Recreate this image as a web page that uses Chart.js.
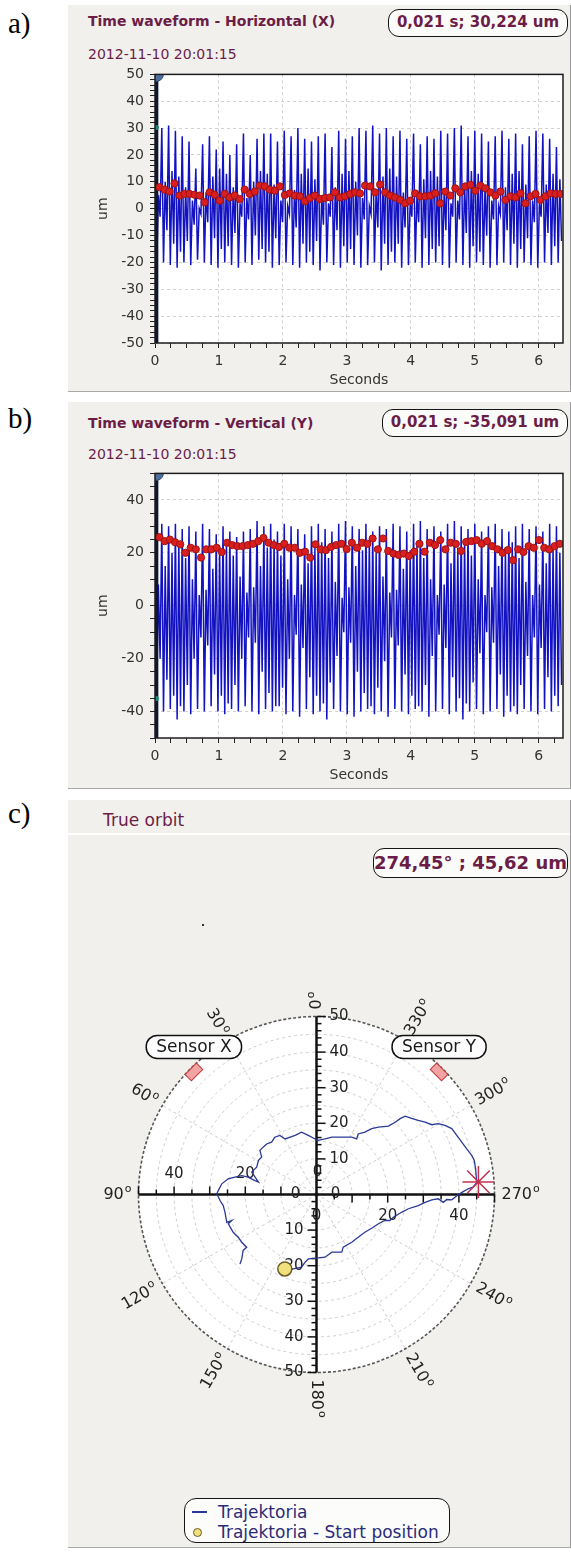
<!DOCTYPE html>
<html>
<head>
<meta charset="utf-8">
<script src="https://cdn.jsdelivr.net/npm/chart.js@4.4.1/dist/chart.umd.min.js"></script>
<style>
  body { margin: 0; width: 571px; height: 1557px; position: relative; background: #fff; font-family: 'DejaVu Sans', sans-serif; overflow: hidden; }
  .tag { position: absolute; left: 8px; font: 29px 'Liberation Serif', serif; line-height: 32px; color: #000; }
  .panel { position: absolute; left: 68px; width: 502px; background: #f1f0ec; border-right: 1px solid #9b9b9b; border-bottom: 1px solid #a9a9a9; }
  .head { position: absolute; color: #6b1d47; white-space: nowrap; }
  .readout { position: absolute; box-sizing: border-box; border: 1.5px solid #151515; border-radius: 11px; background: #fbfbfa; color: #6b1d47; font-weight: bold; text-align: center; white-space: nowrap; }
  .legtext { position: absolute; left: 218px; font-size: 17px; line-height: 20px; color: #2b2b78; white-space: nowrap; }
  canvas { position: absolute; }
</style>
</head>
<body>
<div class="tag" style="top:7px">a)</div>
<div class="panel" style="top:5px;height:386px"></div>
<div class="head" style="left:88px;top:13px;font-size:14px;line-height:17px;font-weight:bold">Time waveform - Horizontal (X)</div>
<div class="head" style="left:88px;top:46px;font-size:14px;line-height:17px">2012-11-10 20:01:15</div>
<div class="readout" style="left:388px;top:9px;width:180px;height:28px;font-size:15px;line-height:25px">0,021 s; 30,224 um</div>
<canvas id="chartA" width="503" height="330" style="left:68px;top:60px"></canvas>

<div class="tag" style="top:402px">b)</div>
<div class="panel" style="top:402px;height:386px"></div>
<div class="head" style="left:88px;top:415px;font-size:14px;line-height:17px;font-weight:bold">Time waveform - Vertical (Y)</div>
<div class="head" style="left:88px;top:446px;font-size:14px;line-height:17px">2012-11-10 20:01:15</div>
<div class="readout" style="left:382px;top:409px;width:186px;height:28px;font-size:15px;line-height:25px">0,021 s; -35,091 um</div>
<canvas id="chartB" width="503" height="326" style="left:68px;top:459px"></canvas>

<div class="tag" style="top:797px">c)</div>
<div class="panel" style="top:800px;height:747px"></div>
<div class="head" style="left:103px;top:810px;font-size:17px;line-height:20px">True orbit</div>
<div style="position:absolute;left:68px;top:833px;width:502px;height:2px;background:#fff"></div>
<div class="readout" style="left:373px;top:848px;width:195px;height:30px;font-size:18px;line-height:27px">274,45° ; 45,62 um</div>
<div style="position:absolute;left:202px;top:924px;width:2px;height:2px;background:#333"></div>
<canvas id="chartC" width="503" height="480" style="left:68px;top:960px"></canvas>

<div style="position:absolute;left:184px;top:1498px;width:266px;height:45px;box-sizing:border-box;border:1.5px solid #151515;border-radius:12px;background:#fcfcfb"></div>
<div style="position:absolute;left:192px;top:1511px;width:15px;height:2px;background:#2b3896"></div>
<div style="position:absolute;left:193px;top:1528px;width:9px;height:9px;border-radius:50%;background:#f2e07c;border:1px solid #6a5c28;box-sizing:border-box"></div>
<div class="legtext" style="top:1502px">Trajektoria</div>
<div class="legtext" style="top:1522px">Trajektoria - Start position</div>

<script>
// time axis
const sampleInterval = 0.0266;
const timeMax = 6.38;
const cursorTime = 0.021;
const dotStart = 0.07;

// a) horizontal waveform, one cycle = peak, trough, inner peak, inner trough (um)
const horizPeaks = [21, 30, 31, 29, 27, 25, 15, 24, 27, 22, 25, 20, 24, 28, 20, 26, 28, 28, 25, 29, 27, 30, 26, 25, 27, 28, 23, 29, 26, 27, 30, 29, 31, 28, 30, 27, 29, 26, 28, 24, 27, 26, 29, 28, 30, 31, 27, 29, 28, 25, 27, 29, 26, 28, 24, 27, 29, 28, 26, 23];
const horizTroughs = [-21, -20, -21, -22, -20, -21, -19, -20, -21, -22, -20, -21, -22, -20, -21, -19, -20, -22, -21, -20, -21, -22, -20, -21, -23, -20, -21, -22, -20, -21, -22, -21, -20, -23, -21, -20, -22, -21, -20, -22, -21, -20, -21, -22, -20, -21, -22, -20, -21, -22, -21, -20, -21, -22, -20, -21, -22, -20, -21, -20];
const horizInnerPeaks = [5, 10, 14, 12, 8, 3, 0, 6, 12, 15, 13, 8, 2, 4, 10, 14, 13, 9, 3, 1, 7, 13, 15, 11, 5, 2, 8, 13, 14, 10, 4, 1, 7, 12, 15, 12, 6, 2, 5, 11, 14, 12, 7, 2, 3, 9, 14, 13, 8, 3, 1, 8, 13, 14, 9, 3, 2, 9, 13, 11];
const horizInnerTroughs = [-3, -8, -13, -16, -12, -6, -2, -5, -11, -15, -14, -9, -3, -4, -10, -15, -16, -11, -5, -2, -7, -13, -16, -12, -6, -3, -8, -14, -15, -10, -4, -2, -7, -13, -16, -13, -7, -3, -5, -11, -15, -14, -8, -3, -4, -9, -14, -16, -10, -4, -2, -8, -13, -15, -11, -5, -3, -9, -14, -12];
const horizDots = [8.0, 7.1, 6.4, 9.4, 4.9, 5.5, 5.5, 5.2, 4.9, 2.4, 6.1, 5.2, 3.0, 5.5, 4.2, 4.9, 3.6, 7.1, 5.5, 6.4, 8.6, 8.3, 7.1, 6.7, 8.3, 5.1, 5.7, 4.9, 4.6, 2.8, 4.0, 4.9, 3.6,
  4.0, 4.2, 6.1, 4.2, 4.6, 5.5, 6.1, 5.7, 8.6, 8.3, 6.1, 9.0, 6.1, 4.9, 4.2, 3.3, 2.0, 3.0, 5.7, 4.6, 4.6, 4.9, 5.7, 2.0, 6.4, 4.9, 7.6, 6.1, 8.3, 8.9, 6.7, 8.6, 7.6, 6.1, 4.9, 6.4, 3.3, 4.6, 4.2, 5.7, 2.0, 4.6, 5.5, 3.3, 4.6, 5.7, 5.5, 5.5];
const horizDotStep = 0.0784;
const horizCursorValue = 30.224;

// b) vertical waveform
const vertPeaks = [25, 31, 30, 31, 29, 30, 28, 31, 29, 27, 30, 28, 26, 28, 29, 32, 30, 31, 28, 31, 30, 29, 27, 30, 31, 29, 28, 31, 32, 30, 29, 31, 28, 30, 29, 31, 30, 28, 31, 32, 29, 30, 28, 31, 32, 30, 29, 31, 28, 30, 31, 29, 28, 30, 31, 29, 30, 28, 31, 30];
const vertTroughs = [-30, -40, -39, -43, -40, -41, -39, -40, -38, -40, -41, -39, -40, -38, -40, -41, -39, -40, -38, -41, -40, -42, -39, -41, -40, -43, -39, -40, -41, -42, -40, -39, -41, -40, -42, -39, -40, -41, -39, -40, -42, -40, -39, -41, -40, -43, -40, -39, -41, -40, -39, -42, -40, -41, -39, -40, -41, -39, -40, -38];
const vertInnerPeaks = [8, 15, 20, 24, 18, 10, 4, 6, 14, 21, 24, 19, 11, 5, 7, 15, 22, 25, 19, 10, 4, 8, 16, 22, 24, 18, 9, 3, 7, 15, 21, 25, 20, 11, 5, 6, 14, 21, 24, 18, 10, 4, 8, 16, 22, 25, 19, 10, 4, 7, 15, 22, 24, 18, 9, 4, 8, 16, 22, 20];
const vertInnerTroughs = [-20, -28, -34, -38, -30, -20, -12, -15, -26, -34, -37, -30, -20, -12, -14, -25, -33, -38, -31, -20, -11, -16, -27, -34, -37, -29, -19, -10, -14, -25, -33, -38, -31, -21, -12, -15, -26, -34, -38, -30, -19, -11, -16, -27, -35, -37, -29, -18, -10, -14, -26, -34, -38, -30, -19, -12, -16, -27, -34, -30];
const vertDots = [25.9, 24.4, 25.0, 24.0, 23.2, 20.0, 21.9, 21.3, 18.2, 21.3, 21.3, 21.9, 20.3, 23.8, 22.9, 22.5, 22.5, 22.9, 23.4, 24.4, 25.6, 23.8, 22.9, 22.2, 23.4, 21.9, 21.9,
  20.0, 20.4, 18.2, 23.2, 21.3, 21.0, 22.2, 22.9, 23.4, 21.4, 23.8, 21.9, 23.8, 23.4, 25.4, 21.3, 25.4, 20.7, 19.7, 19.2, 19.7, 18.8, 20.4, 23.4, 20.4, 23.8, 22.9, 24.8, 21.3, 23.8,
  23.4, 20.7, 24.1, 24.4, 24.8, 23.4, 24.4, 22.5, 21.3, 20.0, 21.0, 17.2, 21.3, 20.3, 22.5, 21.9, 24.8, 21.9, 21.3, 22.5, 23.4];
const vertDotStep = 0.0813;
const vertCursorValue = -35.091;

// c) true orbit (um, x to the right, y up)
const orbitX = [-8.9, -6.5, -4.2, -3.2, -2.3, 0.0, 2.4, 4.3, 7.1, 7.5, 9.9, 11.7, 13.6, 15.5, 17.4, 19.2, 20.6, 21.6, 23.9, 25.8, 28.6, 30.5, 32.4, 34.2, 35.6, 36.6, 38.0, 39.8, 41.2, 42.6, 44.0, 45.0,
  44.7, 44.3, 43.6, 42.2, 40.8, 39.4, 38.0, 36.1, 34.2, 32.4, 30.5, 28.6, 26.7, 24.9, 23.5, 22.1, 20.2, 17.4, 15.5, 13.6, 11.7, 11.3, 9.9, 7.1, 4.3, 2.4, 0.5, -0.4, -2.3, -4.2, -6.0,
  -7.4, -8.8, -10.3, -11.7, -12.6, -14.0, -15.0, -15.9, -15.4, -16.3, -16.8, -17.8, -18.2, -16.3, -17.3, -19.2, -21.0, -22.9, -24.8, -26.6, -27.6, -28.0, -27.1, -26.2, -25.7, -25.2,
  -23.8, -24.8, -23.4, -22.0, -21.0, -19.6, -20.6, -21.0, -21.5];
const orbitY = [-20.9, -20.9, -20.4, -19.0, -18.1, -17.9, -17.6, -16.2, -16.2, -14.8, -13.4, -12.0, -10.6, -9.5, -8.2, -7.3, -7.3, -6.4, -5.0, -4.0, -3.1, -2.2, -1.5, -1.2, -2.2, -1.4, -1.5, -0.1, 0.8, 1.6, 2.1, 3.3,
  7.2, 9.6, 11.0, 12.8, 14.7, 16.6, 18.5, 19.4, 19.9, 19.6, 20.3, 20.8, 21.4, 22.0, 21.3, 20.3, 19.2, 18.9, 18.5, 17.5, 17.0, 15.6, 16.1, 16.1, 16.1, 15.6, 15.2, 15.6, 16.6, 17.5, 16.6,
  16.1, 15.6, 16.6, 16.1, 14.7, 14.2, 13.3, 12.4, 10.5, 9.6, 7.7, 6.7, 6.3, 3.5, 3.9, 4.9, 5.3, 4.9, 4.4, 3.0, 1.1, 0.2, -1.7, -3.1, -5.0, -7.8,
  -7.3, -8.2, -10.6, -12.0, -13.4, -14.8, -15.7, -18.1, -19.5];
const currentAngle = 274.45;
const currentRadius = 45.62;
const ringValues = [5, 10, 15, 20, 25, 30, 35, 40, 45, 50];
const angleTicks = [0, 30, 60, 90, 120, 150, 180, 210, 240, 270, 300, 330];
const vertAxisLabels = [10, 20, 30, 40, 50];
const horizAxisLabels = [20, 40];
const sensorNames = ['Sensor X', 'Sensor Y'];
const sensorAngles = [45, 315];

Chart.defaults.font.family = "'DejaVu Sans', sans-serif";

const isMajor = (v, m) => Math.abs(v / m - Math.round(v / m)) < 1e-6;

const plotFrame = {
  id: 'plotFrame',
  beforeDraw(chart) {
    const {ctx, chartArea: a} = chart;
    ctx.save();
    ctx.fillStyle = '#ffffff';
    ctx.fillRect(a.left, a.top, a.right - a.left, a.bottom - a.top);
    ctx.restore();
  },
  afterDatasetsDraw(chart) {
    const {ctx, chartArea: a} = chart;
    ctx.save();
    ctx.strokeStyle = '#1c1c1c';
    ctx.lineWidth = 1.5;
    ctx.strokeRect(a.left, a.top, a.right - a.left, a.bottom - a.top);
    ctx.restore();
  }
};

function waveChart(id, s) {
  const wave = [];
  s.peaks.forEach((p, i) => {
    [p, s.troughs[i], s.innerPeaks[i], s.innerTroughs[i]].forEach(v => {
      wave.push({x: wave.length * sampleInterval, y: v});
    });
  });
  const dots = s.dots.map((v, i) => ({x: dotStart + i * s.dotStep, y: v}));

  new Chart(document.getElementById(id), {
    type: 'scatter',
    data: {
      datasets: [
        {data: dots, pointRadius: 3.6, pointBackgroundColor: '#d81e1e', pointBorderColor: '#a01212', pointBorderWidth: 1},
        {data: [{x: cursorTime, y: s.cursorValue}], pointRadius: 2.5, pointBackgroundColor: '#1d8a76', pointBorderWidth: 0},
        {data: [{x: cursorTime, y: s.yMax}], pointRadius: 7, pointBackgroundColor: '#4e6e9e', pointBorderColor: '#2e4a78', pointBorderWidth: 1, clip: 0},
        {data: [{x: cursorTime, y: s.yMin}, {x: cursorTime, y: s.yMax}], showLine: true, borderColor: '#0d1533', borderWidth: 4, pointRadius: 0},
        {data: wave, showLine: true, borderColor: '#1212c2', borderWidth: 1.5, pointRadius: 0}
      ]
    },
    options: {
      responsive: false,
      animation: false,
      devicePixelRatio: 1,
      events: [],
      layout: {padding: {top: 13, right: 5, left: 0, bottom: 0}},
      plugins: {legend: {display: false}, tooltip: {enabled: false}},
      scales: {
        x: {
          type: 'linear', min: 0, max: timeMax,
          afterFit: sc => { sc.height = 47; },
          ticks: {stepSize: 0.25, autoSkip: false, includeBounds: false, maxRotation: 0, padding: 5,
                  color: '#333', font: {size: 14}, callback: v => isMajor(v, 1) ? v : ''},
          grid: {color: c => c.tick && isMajor(c.tick.value, 1) ? '#d2d2d2' : 'rgba(0,0,0,0)',
                 tickColor: '#222', tickLength: 5},
          border: {display: false, dash: [3, 3]},
          title: {display: true, text: 'Seconds', color: '#333', font: {size: 14}, padding: {top: 0, bottom: 1}}
        },
        y: {
          type: 'linear', min: s.yMin, max: s.yMax,
          afterFit: sc => { sc.width = 87; },
          ticks: {stepSize: s.yMinor, autoSkip: false, padding: 6,
                  color: '#333', font: {size: 14}, callback: v => isMajor(v, s.yMajor) ? v : ''},
          grid: {color: c => c.tick && isMajor(c.tick.value, s.yMajor) ? '#d2d2d2' : 'rgba(0,0,0,0)',
                 tickColor: '#222', tickLength: 5},
          border: {display: false, dash: [3, 3]},
          title: {display: true, text: 'um', color: '#333', font: {size: 14}, padding: {top: 27, bottom: 0}}
        }
      }
    },
    plugins: [plotFrame]
  });
}

waveChart('chartA', {
  peaks: horizPeaks, troughs: horizTroughs, innerPeaks: horizInnerPeaks, innerTroughs: horizInnerTroughs,
  dots: horizDots, dotStep: horizDotStep, cursorValue: horizCursorValue,
  yMin: -50, yMax: 50, yMajor: 10, yMinor: 2
});
waveChart('chartB', {
  peaks: vertPeaks, troughs: vertTroughs, innerPeaks: vertInnerPeaks, innerTroughs: vertInnerTroughs,
  dots: vertDots, dotStep: vertDotStep, cursorValue: vertCursorValue,
  yMin: -50, yMax: 50, yMajor: 20, yMinor: 5
});

// polar helpers: angle counted from the top, counter-clockwise
const toXY = (deg, r) => {
  const a = deg * Math.PI / 180;
  return {x: -r * Math.sin(a), y: r * Math.cos(a)};
};
const orbitRange = ringValues[ringValues.length - 1];

const orbitDecor = {
  id: 'orbitDecor',
  beforeDatasetsDraw(chart) {
    const {ctx, scales: {x, y}} = chart;
    const P = (ux, uy) => ({x: x.getPixelForValue(ux), y: y.getPixelForValue(uy)});
    const polar = (deg, r) => { const q = toXY(deg, r); return P(q.x, q.y); };
    const c = P(0, 0);
    const R = x.getPixelForValue(orbitRange) - c.x;
    ctx.save();
    ctx.fillStyle = '#ffffff';
    ctx.beginPath(); ctx.arc(c.x, c.y, R, 0, Math.PI * 2); ctx.fill();

    ctx.strokeStyle = '#cfcfcf'; ctx.lineWidth = 1; ctx.setLineDash([3, 3]);
    ringValues.slice(0, -1).forEach(r => {
      ctx.beginPath(); ctx.arc(c.x, c.y, x.getPixelForValue(r) - c.x, 0, Math.PI * 2); ctx.stroke();
    });
    angleTicks.forEach(a => {
      const p = polar(a, orbitRange);
      ctx.beginPath(); ctx.moveTo(c.x, c.y); ctx.lineTo(p.x, p.y); ctx.stroke();
    });
    ctx.strokeStyle = '#555'; ctx.lineWidth = 1.6; ctx.setLineDash([3, 2]);
    ctx.beginPath(); ctx.arc(c.x, c.y, R, 0, Math.PI * 2); ctx.stroke();
    ctx.setLineDash([]);

    // cross axes
    ctx.strokeStyle = '#111'; ctx.lineWidth = 2.5;
    let p1 = P(-orbitRange, 0), p2 = P(orbitRange, 0);
    ctx.beginPath(); ctx.moveTo(p1.x, p1.y); ctx.lineTo(p2.x, p2.y); ctx.stroke();
    p1 = P(0, -orbitRange); p2 = P(0, orbitRange);
    ctx.beginPath(); ctx.moveTo(p1.x, p1.y); ctx.lineTo(p2.x, p2.y); ctx.stroke();

    ctx.lineWidth = 1.5;
    for (let v = 2; v <= orbitRange; v += 2) {
      const len = v % 10 === 0 ? 9 : 5;
      const up = P(0, v), dn = P(0, -v);
      ctx.beginPath(); ctx.moveTo(c.x, up.y); ctx.lineTo(c.x + len, up.y); ctx.stroke();
      ctx.beginPath(); ctx.moveTo(c.x, dn.y); ctx.lineTo(c.x - len, dn.y); ctx.stroke();
    }
    for (let v = 5; v <= orbitRange; v += 5) {
      const len = v % 10 === 0 ? 8 : 5;
      const lf = P(-v, 0), rt = P(v, 0);
      ctx.beginPath(); ctx.moveTo(lf.x, c.y); ctx.lineTo(lf.x, c.y - len); ctx.stroke();
      ctx.beginPath(); ctx.moveTo(rt.x, c.y); ctx.lineTo(rt.x, c.y + len); ctx.stroke();
    }

    // axis numbers
    ctx.fillStyle = '#222'; ctx.font = "15px 'DejaVu Sans'"; ctx.textBaseline = 'middle';
    vertAxisLabels.forEach(v => {
      ctx.textAlign = 'left'; ctx.fillText(String(v), c.x + 13, P(0, v).y);
      ctx.textAlign = 'right'; ctx.fillText(String(v), c.x - 13, P(0, -v).y);
    });
    ctx.textAlign = 'center';
    horizAxisLabels.forEach(v => {
      ctx.fillText(String(v), P(-v, 0).x, c.y - 20);
      ctx.fillText(String(v), P(v, 0).x, c.y + 22);
    });
    ctx.fillText('0', c.x + 1, c.y - 22);
    ctx.fillText('0', c.x, c.y + 22);
    ctx.fillText('0', c.x - 21, c.y);
    ctx.fillText('0', c.x + 19, c.y);

    // angle labels, radial and kept upright
    angleTicks.forEach(a => {
      const p = polar(a, orbitRange);
      const dir = Math.atan2(p.y - c.y, p.x - c.x);
      const flip = Math.cos(dir) < -1e-6;
      const gap = R + 7;
      const num = String(a);
      ctx.font = "16px 'DejaVu Sans'"; const wNum = ctx.measureText(num).width;
      ctx.font = "11px 'DejaVu Sans'"; const wO = ctx.measureText('o').width;
      const total = wNum + 1 + wO;
      const start = flip ? -total : 0;
      ctx.save();
      ctx.translate(c.x + gap * Math.cos(dir), c.y + gap * Math.sin(dir));
      ctx.rotate(flip ? dir + Math.PI : dir);
      ctx.textAlign = 'left';
      ctx.font = "16px 'DejaVu Sans'"; ctx.fillText(num, start, 0);
      ctx.font = "11px 'DejaVu Sans'"; ctx.fillText('o', start + wNum + 1, -5);
      ctx.restore();
    });
    ctx.restore();
  },
  afterDatasetsDraw(chart) {
    const {ctx, scales: {x, y}} = chart;
    const c = {x: x.getPixelForValue(0), y: y.getPixelForValue(0)};
    ctx.save();
    sensorAngles.forEach((a, i) => {
      const q = toXY(a, orbitRange - 1.3);
      const p = {x: x.getPixelForValue(q.x), y: y.getPixelForValue(q.y)};
      const dir = Math.atan2(p.y - c.y, p.x - c.x);
      ctx.save();
      ctx.translate(p.x, p.y); ctx.rotate(dir + Math.PI / 2);
      ctx.fillStyle = '#f2a3a3'; ctx.strokeStyle = '#c0393b'; ctx.lineWidth = 1;
      ctx.fillRect(-8, -4.5, 16, 9); ctx.strokeRect(-8, -4.5, 16, 9);
      ctx.restore();

      ctx.font = "17px 'DejaVu Sans'";
      const w = ctx.measureText(sensorNames[i]).width + 20, h = 23;
      const bx = p.x - w / 2, by = p.y - 25 - h / 2;
      ctx.beginPath(); ctx.roundRect(bx, by, w, h, 11);
      ctx.fillStyle = '#fcfcfc'; ctx.fill();
      ctx.strokeStyle = '#111'; ctx.lineWidth = 1.5; ctx.stroke();
      ctx.fillStyle = '#1a1a1a'; ctx.textAlign = 'center'; ctx.textBaseline = 'middle';
      ctx.fillText(sensorNames[i], p.x, by + h / 2 + 1);
    });
    ctx.restore();
  }
};

const orbit = orbitX.map((v, i) => ({x: v, y: orbitY[i]}));
const current = toXY(currentAngle, currentRadius);

new Chart(document.getElementById('chartC'), {
  type: 'scatter',
  data: {
    datasets: [
      {label: 'Trajektoria - Start position', data: [orbit[0]], pointRadius: 7,
       pointBackgroundColor: '#f2e07c', pointBorderColor: '#6a5c28', pointBorderWidth: 1.5},
      {data: [current], pointStyle: 'star', pointRadius: 16, pointBorderColor: '#c3304e', pointBorderWidth: 1.5},
      {label: 'Trajektoria', data: orbit, showLine: true, borderColor: '#2b3896', borderWidth: 1.3, pointRadius: 0}
    ]
  },
  options: {
    responsive: false,
    animation: false,
    devicePixelRatio: 1,
    events: [],
    layout: {padding: {left: 70.5, right: 76.5, top: 56.5, bottom: 67.5}},
    plugins: {legend: {display: false}, tooltip: {enabled: false}},
    scales: {
      x: {type: 'linear', min: -orbitRange, max: orbitRange, display: false},
      y: {type: 'linear', min: -orbitRange, max: orbitRange, display: false}
    }
  },
  plugins: [orbitDecor]
});
</script>
</body>
</html>
